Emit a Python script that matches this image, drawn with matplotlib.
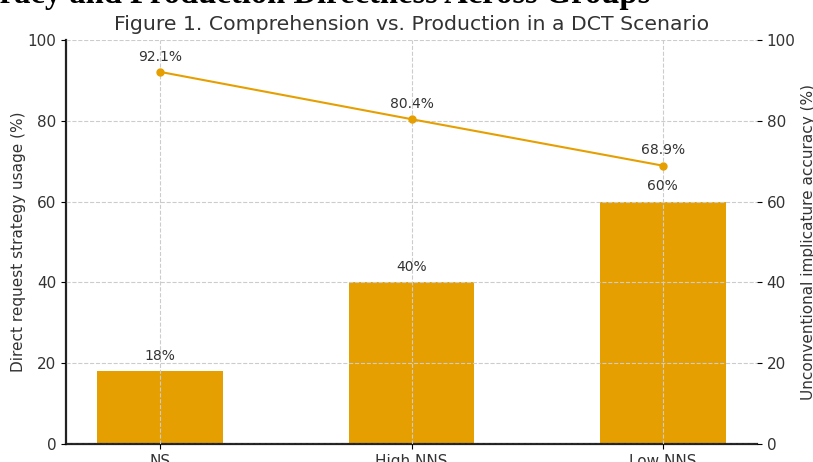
import matplotlib.pyplot as plt

# Data
groups = ["NS", "High NNS", "Low NNS"]
direct_usage = [18, 40, 60]
implicature_acc = [92.1, 80.4, 68.9]

bar_color = "#E69F00"
text_color = "#333333"

fig = plt.figure(figsize=(8.13, 4.62), dpi=100)
ax = fig.add_axes([66 / 813, 18 / 462, 691 / 813, 404 / 462])

# Bars - direct request usage
x = range(len(groups))
ax.bar(x, direct_usage, width=0.5, color=bar_color, zorder=1)
for i, v in enumerate(direct_usage):
    ax.annotate(f"{v}%", (i, v), xytext=(0, 6), textcoords="offset points",
                ha="center", va="bottom", fontsize=10, color=text_color)

ax.set_ylim(0, 100)
ax.set_xticks(list(x))
ax.set_xticklabels(groups, fontsize=11, color=text_color)
ax.set_ylabel("Direct request strategy usage (%)", fontsize=11, color=text_color, labelpad=1)
ax.tick_params(axis="y", labelsize=11, labelcolor=text_color)
ax.spines["top"].set_visible(False)
ax.spines["right"].set_visible(False)
for s in ("left", "bottom"):
    ax.spines[s].set_linewidth(1.6)
    ax.spines[s].set_color("#222222")

# grid drawn above the bars
ax.set_axisbelow(False)
ax.grid(True, linestyle="--", color="#cccccc", linewidth=0.8)

# Line - implicature accuracy on twin axis
ax2 = ax.twinx()
ax2.plot(list(x), implicature_acc, color=bar_color, marker="o", markersize=5, linewidth=1.5)
for i, v in enumerate(implicature_acc):
    ax2.annotate(f"{v}%", (i, v), xytext=(0, 6), textcoords="offset points",
                 ha="center", va="bottom", fontsize=10, color=text_color)
ax2.set_ylim(0, 100)
ax2.set_ylabel("Unconventional implicature accuracy (%)", fontsize=11, color=text_color)
ax2.tick_params(axis="y", labelsize=11, labelcolor=text_color)
for s in ("top", "right", "left", "bottom"):
    ax2.spines[s].set_visible(False)
ax2.set_xlim(ax.get_xlim())

ax.set_title("Figure 1. Comprehension vs. Production in a DCT Scenario",
             fontsize=14.7, color=text_color, pad=7)

# Caption from page above the figure (cropped)
fig.text(650 / 813, 1 - 3 / 462, "Comprehension Accuracy and Production Directness Across Groups",
         ha="right", va="baseline", fontsize=23.5, fontweight="bold",
         family="Liberation Serif", color="black")

fig.savefig("out.png", dpi=100)
